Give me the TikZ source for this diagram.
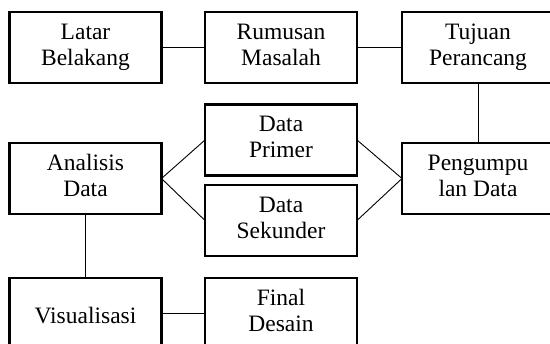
\documentclass[tikz,border=0pt]{standalone}
\usepackage{fontspec}
\setmainfont{Liberation Serif}
\usetikzlibrary{positioning}

\begin{document}
\begin{tikzpicture}[
    x=1pt, y=1pt,
    font=\fontsize{23.5}{25.7}\selectfont,
    stepbox/.style={
        rectangle,
        draw=black,
        line width=2.4pt,
        outer sep=0pt,
        minimum width=152pt,
        minimum height=71pt,
        inner sep=0pt,
        align=center,
        execute at begin node={\rule{0pt}{26pt}},
        execute at end node={\rule[-6pt]{0pt}{6pt}}
    },
    link/.style={
        draw=black,
        line width=0.9pt
    }
]
\useasboundingbox (0,0) rectangle (550,344);
\clip (0,0) rectangle (550,344);

% -------------------- Top row ----------------------------
\node[stepbox] (latar) at (85.5,296.5) {Latar\\Belakang};
\node[stepbox, right=43.5pt of latar] (rumusan) {Rumusan\\Masalah};
\node[stepbox, right=45pt of rumusan] (tujuan) {Tujuan\\Perancang};

% -------------------- Data ------------------------------
\node[stepbox, below=21.5pt of rumusan] (primer) {Data\\Primer};
\node[stepbox, below=9.5pt of primer] (sekunder) {Data\\Sekunder};
\node[stepbox, below=60pt of latar] (analisis) {Analisis\\Data};
\node[stepbox, below=60pt of tujuan] (pengumpulan) {Pengumpu\\lan Data};

% -------------------- Bottom row -------------------------
\node[stepbox, below=64pt of analisis] (visualisasi) {Visualisasi};
\node[stepbox, right=43.5pt of visualisasi] (final) {Final\\Desain};

% -------------------- Links ------------------------------
\draw[link] (latar.east) -- (rumusan.west);
\draw[link] (rumusan.east) -- (tujuan.west);
\draw[link] (tujuan.south) -- (pengumpulan.north);
\draw[link] (pengumpulan.west) -- (primer.east);
\draw[link] (pengumpulan.west) -- (sekunder.east);
\draw[link] (primer.west) -- (analisis.east);
\draw[link] (sekunder.west) -- (analisis.east);
\draw[link] (analisis.south) -- (visualisasi.north);
\draw[link] (visualisasi.east) -- (final.west);

\end{tikzpicture}
\end{document}
